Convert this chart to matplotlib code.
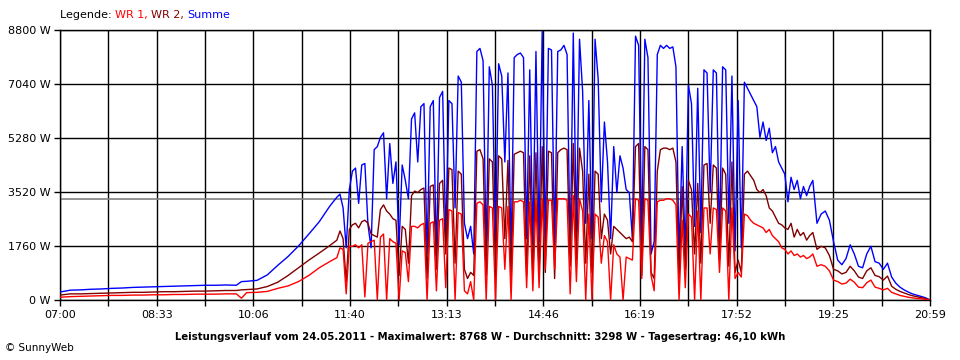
import numpy as np
import matplotlib
matplotlib.use("Agg")
import matplotlib.pyplot as plt

# minutes after 07:00
t_morning = [0, 10, 20, 30, 40, 50, 60, 70, 80, 90, 100, 110, 120, 130, 140,
             150, 160, 170, 175, 180, 190, 200, 210, 220, 230, 240, 250, 260, 267]
t_midday = np.arange(270, 727, 3)
t_evening = np.arange(730, 839, 4)

summe_morning = [260, 320, 330, 350, 360, 380, 390, 410, 420, 430, 440, 450, 460, 470, 480,
                 480, 490, 480, 600, 610, 640, 820, 1130, 1420, 1760, 2150, 2550, 3050, 3350]
wr2_morning = [160, 200, 200, 210, 220, 230, 240, 250, 250, 260, 270, 270, 280, 290, 290,
               300, 310, 310, 330, 340, 360, 440, 580, 800, 1050, 1300, 1530, 1770, 1950]
wr1_morning = [90, 110, 120, 130, 140, 150, 150, 160, 160, 170, 170, 180, 180, 190, 190,
               190, 200, 200, 60, 240, 250, 280, 380, 460, 600, 800, 1050, 1250, 1380]

summe_midday = [3450, 3000, 1700, 3600, 4200, 4300, 3150, 4400, 4450, 2450,
                1700, 4900, 5000, 5300, 5450, 3300, 5100, 3800, 4500, 1800,
                4400, 3900, 3300, 5900, 6100, 4500, 6300, 6400, 1500, 6300,
                6500, 1400, 6600, 6800, 2000, 6500, 6400, 3000, 7300, 7100,
                2500, 2000, 2400, 1500, 8100, 8200, 7800, 1500, 7600, 7000,
                2000, 7700, 7300, 4500, 7400, 1400, 7900, 8000, 8050, 7900,
                2000, 7500, 1800, 8100, 1900, 8750, 1850, 8200, 8150, 1800,
                8100, 8150, 8300, 8000, 1500, 8700, 2200, 8500, 6800, 2500,
                6500, 2000, 8500, 7200, 3200, 5800, 4500, 2000, 5000, 3500,
                4700, 4300, 3600, 3500, 2000, 8600, 8300, 1800, 8500, 7900,
                1500, 1900, 8000, 8300, 8200, 8300, 8200, 8250, 7600, 1400,
                5000, 1500, 7000, 6400, 2400, 6900, 2200, 7500, 7400, 3500,
                7500, 7400, 1900, 7600, 7500, 2500, 7300, 1600, 6500, 1700,
                7100, 6900, 6700, 6500, 6300, 5300, 5800, 5200, 5600, 4800,
                5000, 4500, 4300, 4100, 3200, 4000, 3600, 3900, 3300, 3700,
                3400, 3700, 3900]
wr2_midday = [2250, 2000, 600, 2300, 2450, 2500, 2350, 2550, 2600, 2500,
              2150, 2100, 2050, 2950, 3100, 2900, 2800, 2650, 2600, 800,
              2400, 2300, 1200, 3400, 3550, 3500, 3600, 3650, 700, 3700,
              3750, 1000, 3800, 3900, 1500, 4300, 4250, 1200, 4200, 4100,
              1000, 700, 900, 800, 4850, 4900, 4600, 800, 4600, 4500,
              1000, 4700, 4600, 2000, 4550, 700, 4750, 4800, 4850, 4800,
              800, 4700, 700, 4800, 800, 5000, 900, 4850, 4800, 700,
              4800, 4900, 4950, 4900, 1100, 5100, 1300, 4950, 4200, 1200,
              4100, 900, 4200, 4100, 2000, 2800, 2600, 1500, 2400, 2300,
              2200, 2100, 2000, 2050, 1900, 5000, 5100, 800, 5000, 4900,
              900, 700, 4200, 4900, 4950, 4950, 4900, 4950, 4500, 700,
              3700, 1000, 3900, 3600, 1500, 3800, 1200, 4400, 4450, 2500,
              4400, 4300, 1300, 4300, 4100, 1100, 4500, 900, 1300, 900,
              4100, 4200, 4050, 3900, 3600, 3500, 3600, 3400, 3000, 2900,
              2700, 2500, 2450, 2350, 2300, 2500, 2050, 2300, 2100, 2200,
              1950, 2100, 2200]
wr1_midday = [1700, 1650, 200, 1750, 1750, 1800, 1700, 1800, 100, 1850,
              1900, 1950, 0, 2050, 2150, 0, 2000, 1900, 1850, 0,
              1600, 1550, 600, 2400, 2400, 2350, 2450, 2500, 0, 2500,
              2550, 300, 2600, 2650, 400, 2950, 2900, 0, 2850, 2800,
              300, 200, 600, 0, 3150, 3200, 3100, 0, 3050, 3000,
              0, 3050, 3000, 1000, 3050, 0, 3200, 3200, 3250, 3200,
              400, 3200, 300, 3250, 400, 3300, 1000, 3250, 3250, 1000,
              3300, 3300, 3300, 3250, 200, 3400, 600, 3300, 2900, 0,
              2800, 0, 2800, 2700, 1200, 2100, 1900, 0, 1800, 1500,
              1400, 0, 1400, 1350, 1300, 3300, 3250, 700, 3300, 3250,
              800, 300, 3200, 3250, 3250, 3300, 3300, 3250, 3100, 0,
              2600, 400, 2800, 2700, 0, 2900, 0, 3000, 3000, 1500,
              3000, 2950, 900, 3000, 2900, 0, 3000, 700, 900, 750,
              2800, 2750, 2600, 2500, 2450, 2400, 2350, 2200, 2300, 2100,
              2000, 1900, 1700, 1650, 1500, 1600, 1450, 1500, 1400, 1450,
              1350, 1400, 1500]

summe_evening = [2500, 2800, 2900, 2600, 1900, 1300, 1150, 1350, 1800, 1500,
                 1100, 1050, 1500, 1750, 1250, 1200, 1000, 1200, 750, 550,
                 420, 330, 260, 200, 160, 120, 80, 20]
wr2_evening = [1650, 1750, 1700, 1450, 1000, 950, 850, 900, 1100, 950,
               750, 700, 950, 1050, 800, 760, 650, 780, 450, 350,
               280, 230, 180, 140, 110, 80, 50, 10]
wr1_evening = [1100, 1150, 1100, 950, 650, 600, 520, 550, 680, 580,
               420, 400, 560, 650, 420, 380, 330, 380, 250, 200,
               150, 120, 90, 70, 50, 40, 25, 5]

average = 3298
y_ticks = [0, 1760, 3520, 5280, 7040, 8800]
x_labels = ["07:00", "08:33", "10:06", "11:40", "13:13", "14:46", "16:19", "17:52", "19:25", "20:59"]

t = np.concatenate([t_morning, t_midday, t_evening])
summe = np.concatenate([summe_morning, summe_midday, summe_evening])
wr2 = np.concatenate([wr2_morning, wr2_midday, wr2_evening])
wr1 = np.concatenate([wr1_morning, wr1_midday, wr1_evening])

plt.rcParams["font.family"] = ["DejaVu Sans"]
fig = plt.figure(figsize=(9.6, 3.6), dpi=100)
ax = fig.add_axes([60 / 960, 60 / 360, 870 / 960, 270 / 360])

ax.axhline(average, color="#808080", lw=1.2, zorder=1)
ax.plot(t, summe, color="#0000ff", lw=1.0, zorder=3)
ax.plot(t, wr2, color="#800000", lw=1.0, zorder=4)
ax.plot(t, wr1, color="#ff0000", lw=1.0, zorder=5)

x_pos = np.linspace(0, 839, len(x_labels))
ax.set_xlim(0, 839)
ax.set_ylim(0, 8800)
ax.set_xticks(x_pos)
ax.set_xticklabels(x_labels, fontsize=8)
ax.set_xticks((x_pos[:-1] + x_pos[1:]) / 2, minor=True)
ax.set_yticks(y_ticks)
ax.set_yticklabels([f"{v} W" for v in y_ticks], fontsize=8)
ax.tick_params(axis="both", which="both", length=4, width=1, color="black", pad=3)
ax.grid(True, which="both", color="black", lw=1.0, zorder=0)
ax.set_axisbelow(True)
for s in ax.spines.values():
    s.set_color("black")
    s.set_linewidth(1.0)

# legend line above the plot
t1 = fig.text(60 / 960, 1 - 20 / 360, "Legende: ", fontsize=8, color="black", va="bottom")
t2 = ax.annotate("WR 1, ", xy=(1, 0), xycoords=t1, va="bottom", fontsize=8, color="#ff0000")
t3 = ax.annotate("WR 2, ", xy=(1, 0), xycoords=t2, va="bottom", fontsize=8, color="#800000")
ax.annotate("Summe", xy=(1, 0), xycoords=t3, va="bottom", fontsize=8, color="#0000ff")

fig.text(480 / 960, 1 - 337 / 360,
         "Leistungsverlauf vom 24.05.2011 - Maximalwert: 8768 W - Durchschnitt: 3298 W - Tagesertrag: 46,10 kWh",
         fontsize=7.3, fontweight="bold", ha="center", va="center")
fig.text(5 / 960, 1 - 348 / 360, "© SunnyWeb", fontsize=7.5, ha="left", va="center")

fig.savefig("out.png", dpi=100)
